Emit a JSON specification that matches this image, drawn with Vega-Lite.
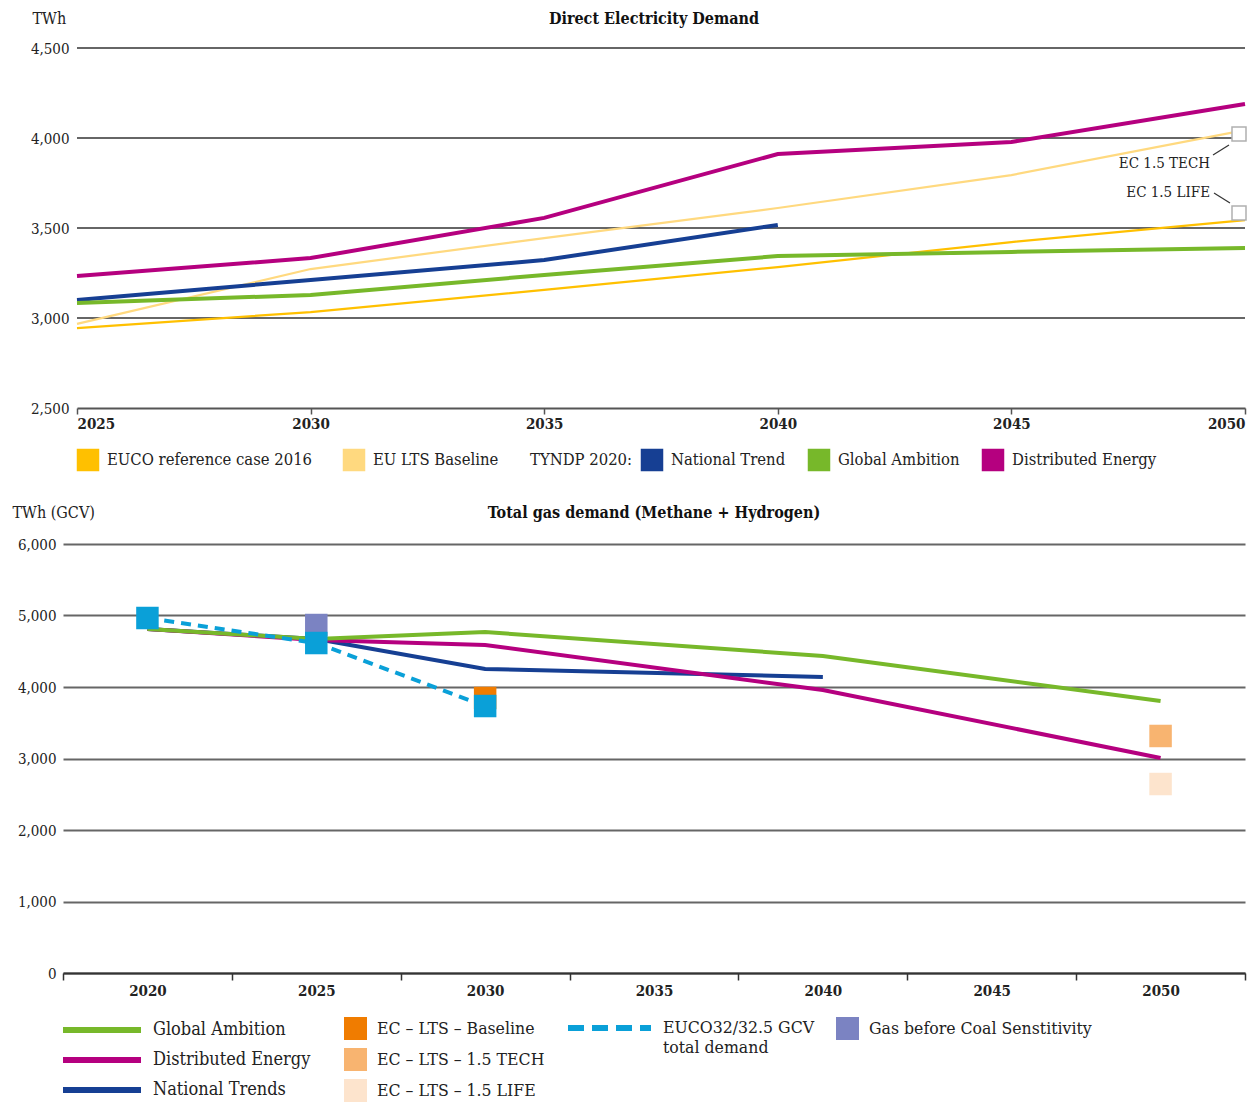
{
  "$schema": "https://vega.github.io/schema/vega-lite/v6.json",
  "padding": {"left": 12, "top": 10, "right": 10, "bottom": 2},
  "background": "white",
  "config": {
    "font": "'DejaVu Serif Condensed', 'DejaVu Serif', serif",
    "view": {"stroke": null},
    "axis": {"labelColor": "#222222", "titleColor": "#222222", "labelFontSize": 15, "titleFontSize": 16, "titleFontWeight": "normal"},
    "legend": {"labelFontSize": 16.5, "labelLimit": 500, "labelColor": "#222222", "titleColor": "#222222", "titleFontWeight": "normal", "titleFontSize": 16.5},
    "title": {"fontSize": 16, "fontWeight": "bold", "color": "#111111"}
  },
  "datasets": {
    "elec": [
      {"series": "National Trend", "year": 2025, "value": 3100},
      {"series": "National Trend", "year": 2030, "value": 3211},
      {"series": "National Trend", "year": 2035, "value": 3322},
      {"series": "National Trend", "year": 2040, "value": 3517},
      {"series": "Global Ambition", "year": 2025, "value": 3083},
      {"series": "Global Ambition", "year": 2030, "value": 3128},
      {"series": "Global Ambition", "year": 2035, "value": 3239},
      {"series": "Global Ambition", "year": 2040, "value": 3344},
      {"series": "Global Ambition", "year": 2045, "value": 3367},
      {"series": "Global Ambition", "year": 2050, "value": 3389},
      {"series": "Distributed Energy", "year": 2025, "value": 3233},
      {"series": "Distributed Energy", "year": 2030, "value": 3333},
      {"series": "Distributed Energy", "year": 2035, "value": 3556},
      {"series": "Distributed Energy", "year": 2040, "value": 3911},
      {"series": "Distributed Energy", "year": 2045, "value": 3978},
      {"series": "Distributed Energy", "year": 2050, "value": 4189},
      {"series": "EUCO reference case 2016", "year": 2025, "value": 2944},
      {"series": "EUCO reference case 2016", "year": 2030, "value": 3033},
      {"series": "EUCO reference case 2016", "year": 2035, "value": 3156},
      {"series": "EUCO reference case 2016", "year": 2040, "value": 3283},
      {"series": "EUCO reference case 2016", "year": 2045, "value": 3422},
      {"series": "EUCO reference case 2016", "year": 2050, "value": 3544},
      {"series": "EU LTS Baseline", "year": 2025, "value": 2967},
      {"series": "EU LTS Baseline", "year": 2030, "value": 3272},
      {"series": "EU LTS Baseline", "year": 2035, "value": 3444},
      {"series": "EU LTS Baseline", "year": 2040, "value": 3611},
      {"series": "EU LTS Baseline", "year": 2045, "value": 3794},
      {"series": "EU LTS Baseline", "year": 2050, "value": 4044}
    ],
    "ec_elec": [
      {"label": "EC 1.5 TECH", "year": 2050, "value": 4022},
      {"label": "EC 1.5 LIFE", "year": 2050, "value": 3583}
    ],
    "gas": [
      {"series": "National Trends", "year": "2020", "value": 4811},
      {"series": "National Trends", "year": "2025", "value": 4671},
      {"series": "National Trends", "year": "2030", "value": 4252},
      {"series": "National Trends", "year": "2040", "value": 4140},
      {"series": "Distributed Energy", "year": "2020", "value": 4811},
      {"series": "Distributed Energy", "year": "2025", "value": 4657},
      {"series": "Distributed Energy", "year": "2030", "value": 4587},
      {"series": "Distributed Energy", "year": "2040", "value": 3958},
      {"series": "Distributed Energy", "year": "2050", "value": 3007},
      {"series": "Global Ambition", "year": "2020", "value": 4811},
      {"series": "Global Ambition", "year": "2025", "value": 4671},
      {"series": "Global Ambition", "year": "2030", "value": 4769},
      {"series": "Global Ambition", "year": "2040", "value": 4434},
      {"series": "Global Ambition", "year": "2050", "value": 3804}
    ],
    "euco": [
      {"series": "EUCO32/32.5 GCV total demand", "year": "2020", "value": 4965},
      {"series": "EUCO32/32.5 GCV total demand", "year": "2025", "value": 4615},
      {"series": "EUCO32/32.5 GCV total demand", "year": "2030", "value": 3734}
    ],
    "ec_gas": [
      {"series": "EC – LTS – Baseline", "year": "2030", "value": 3846},
      {"series": "EC – LTS – 1.5 TECH", "year": "2050", "value": 3315},
      {"series": "EC – LTS – 1.5 LIFE", "year": "2050", "value": 2643}
    ],
    "gbc": [
      {"series": "Gas before Coal Senstitivity", "year": "2025", "value": 4867}
    ],
    "grid_top": [
      {"grid": 3000}, {"grid": 3500}, {"grid": 4000}, {"grid": 4500}
    ]
  },
  "bounds": "flush",
  "spacing": 136,
  "vconcat": [
    {
      "width": 1182,
      "height": 360,
      "title": {"text": "Direct Electricity Demand", "anchor": "middle", "offset": -17},
      "layer": [
        {
          "data": {"name": "grid_top"},
          "mark": {"type": "rule", "stroke": "#666666", "strokeWidth": 2},
          "encoding": {
            "x": {"datum": 2025, "type": "quantitative", "scale": {"domain": [2025, 2050], "range": [14, 1182], "nice": false, "zero": false},
                  "axis": {"values": [2025, 2030, 2035, 2040, 2045, 2050], "format": "d", "title": null, "grid": false, "domainColor": "#555555", "domainWidth": 2, "tickColor": "#555555", "tickSize": 6, "tickWidth": 1.5, "labelFlush": true, "labelFontWeight": "bold", "labelPadding": 2}},
            "x2": {"datum": 2050},
            "y": {"field": "grid", "type": "quantitative", "scale": {"domain": [2500, 4500], "nice": false, "zero": false},
                  "axis": {"values": [2500, 3000, 3500, 4000, 4500], "format": ",d", "grid": false, "domain": false, "ticks": false, "tickSize": 0, "labelPadding": -6, "title": "TWh", "titleAngle": 0, "titleAlign": "left", "titleBaseline": "middle", "titleX": -31, "titleY": -30}}
          }
        },
        {
          "data": {"name": "elec"},
          "transform": [{"filter": {"field": "series", "oneOf": ["EUCO reference case 2016", "EU LTS Baseline"]}}],
          "mark": {"type": "line", "strokeWidth": 2.2},
          "encoding": {
            "x": {"field": "year", "type": "quantitative", "scale": {"domain": [2025, 2050], "range": [14, 1182], "nice": false, "zero": false}},
            "y": {"field": "value", "type": "quantitative", "scale": {"domain": [2500, 4500], "nice": false, "zero": false}},
            "color": {"field": "series", "type": "nominal", "scale": {"domain": ["EUCO reference case 2016", "EU LTS Baseline"], "range": ["#ffc000", "#ffd97f"]}, "legend": null}
          }
        },
        {
          "data": {"name": "elec"},
          "transform": [{"filter": {"field": "series", "oneOf": ["National Trend", "Global Ambition", "Distributed Energy"]}}],
          "mark": {"type": "line", "strokeWidth": 4},
          "encoding": {
            "x": {"field": "year", "type": "quantitative", "scale": {"domain": [2025, 2050], "range": [14, 1182], "nice": false, "zero": false}},
            "y": {"field": "value", "type": "quantitative", "scale": {"domain": [2500, 4500], "nice": false, "zero": false}},
            "color": {"field": "series", "type": "nominal", "scale": {"domain": ["National Trend", "Global Ambition", "Distributed Energy"], "range": ["#163f93", "#77b82a", "#b5007f"]}, "legend": null}
          }
        },
        {
          "data": {"name": "elec"},
          "transform": [{"filter": {"field": "series", "oneOf": ["EUCO reference case 2016", "EU LTS Baseline"]}}],
          "mark": {"type": "square", "size": 0, "filled": true, "opacity": 1},
          "encoding": {
            "x": {"field": "year", "type": "quantitative", "scale": {"domain": [2025, 2050], "range": [14, 1182], "nice": false, "zero": false}},
            "y": {"field": "value", "type": "quantitative", "scale": {"domain": [2500, 4500], "nice": false, "zero": false}},
            "color": {"field": "series", "type": "nominal", "scale": {"domain": ["EUCO reference case 2016", "EU LTS Baseline"], "range": ["#ffc000", "#ffd97f"]},
                      "legend": {"title": null, "orient": "none", "legendX": 13, "legendY": 400, "direction": "horizontal", "symbolSize": 506, "symbolOpacity": 1, "clipHeight": 24, "labelOffset": 7, "columnPadding": 29}}
          }
        },
        {
          "data": {"name": "elec"},
          "transform": [{"filter": {"field": "series", "oneOf": ["National Trend", "Global Ambition", "Distributed Energy"]}}],
          "mark": {"type": "square", "size": 0, "filled": true, "opacity": 1},
          "encoding": {
            "x": {"field": "year", "type": "quantitative", "scale": {"domain": [2025, 2050], "range": [14, 1182], "nice": false, "zero": false}},
            "y": {"field": "value", "type": "quantitative", "scale": {"domain": [2500, 4500], "nice": false, "zero": false}},
            "color": {"field": "series", "type": "nominal", "scale": {"domain": ["National Trend", "Global Ambition", "Distributed Energy"], "range": ["#163f93", "#77b82a", "#b5007f"]},
                      "legend": {"title": "TYNDP 2020:", "titleOrient": "left", "titlePadding": 7, "orient": "none", "legendX": 467, "legendY": 400, "direction": "horizontal", "symbolSize": 506, "symbolOpacity": 1, "clipHeight": 24, "labelOffset": 7, "columnPadding": 21}}
          }
        },
        {
          "data": {"name": "ec_elec"},
          "mark": {"type": "square", "size": 196, "filled": true, "opacity": 1, "fill": "white", "stroke": "#b0b0b0", "strokeWidth": 1.5, "xOffset": -6},
          "encoding": {
            "x": {"field": "year", "type": "quantitative", "scale": {"domain": [2025, 2050], "range": [14, 1182], "nice": false, "zero": false}},
            "y": {"field": "value", "type": "quantitative", "scale": {"domain": [2500, 4500], "nice": false, "zero": false}}
          }
        },
        {
          "data": {"name": "ec_elec"},
          "transform": [{"filter": "datum.label == 'EC 1.5 TECH'"}],
          "mark": {"type": "text", "align": "right", "baseline": "middle", "dx": -35, "dy": 29, "fontSize": 15, "color": "#222222"},
          "encoding": {
            "x": {"field": "year", "type": "quantitative", "scale": {"domain": [2025, 2050], "range": [14, 1182], "nice": false, "zero": false}},
            "y": {"field": "value", "type": "quantitative", "scale": {"domain": [2500, 4500], "nice": false, "zero": false}},
            "text": {"field": "label"}
          }
        },
        {
          "data": {"name": "ec_elec"},
          "transform": [{"filter": "datum.label == 'EC 1.5 LIFE'"}],
          "mark": {"type": "text", "align": "right", "baseline": "middle", "dx": -35, "dy": -21, "fontSize": 15, "color": "#222222"},
          "encoding": {
            "x": {"field": "year", "type": "quantitative", "scale": {"domain": [2025, 2050], "range": [14, 1182], "nice": false, "zero": false}},
            "y": {"field": "value", "type": "quantitative", "scale": {"domain": [2500, 4500], "nice": false, "zero": false}},
            "text": {"field": "label"}
          }
        },
        {
          "data": {"name": "ec_elec"},
          "transform": [{"filter": "datum.label == 'EC 1.5 TECH'"}],
          "mark": {"type": "rule", "stroke": "#333333", "strokeWidth": 1.2, "xOffset": -32, "x2Offset": -16, "yOffset": 21, "y2Offset": 11},
          "encoding": {
            "x": {"field": "year", "type": "quantitative", "scale": {"domain": [2025, 2050], "range": [14, 1182], "nice": false, "zero": false}},
            "x2": {"field": "year"},
            "y": {"field": "value", "type": "quantitative", "scale": {"domain": [2500, 4500], "nice": false, "zero": false}},
            "y2": {"field": "value"}
          }
        },
        {
          "data": {"name": "ec_elec"},
          "transform": [{"filter": "datum.label == 'EC 1.5 LIFE'"}],
          "mark": {"type": "rule", "stroke": "#333333", "strokeWidth": 1.2, "xOffset": -31, "x2Offset": -15, "yOffset": -20, "y2Offset": -10},
          "encoding": {
            "x": {"field": "year", "type": "quantitative", "scale": {"domain": [2025, 2050], "range": [14, 1182], "nice": false, "zero": false}},
            "x2": {"field": "year"},
            "y": {"field": "value", "type": "quantitative", "scale": {"domain": [2500, 4500], "nice": false, "zero": false}},
            "y2": {"field": "value"}
          }
        }
      ],
      "resolve": {"scale": {"color": "independent"}, "legend": {"color": "independent"}}
    },
    {
      "width": 1182,
      "height": 429,
      "title": {"text": "Total gas demand (Methane + Hydrogen)", "anchor": "middle", "offset": -17},
      "layer": [
        {
          "data": {"name": "gas"},
          "mark": {"type": "line", "strokeWidth": 4},
          "encoding": {
            "x": {"field": "year", "type": "ordinal", "scale": {"type": "band", "domain": ["2020", "2025", "2030", "2035", "2040", "2045", "2050"], "paddingInner": 0, "paddingOuter": 0},
                  "axis": {"title": null, "tickBand": "extent", "labelAngle": 0, "labelFontWeight": "bold", "domainColor": "#333333", "domainWidth": 2, "tickColor": "#333333", "tickSize": 7, "tickWidth": 1.5, "grid": false, "labelPadding": 3}},
            "y": {"field": "value", "type": "quantitative", "scale": {"domain": [0, 6000], "nice": false},
                  "axis": {"values": [0, 1000, 2000, 3000, 4000, 5000, 6000], "format": ",d", "grid": true, "gridColor": "#666666", "gridWidth": 2, "domain": false, "ticks": false, "tickSize": 0, "labelPadding": 7, "title": "TWh (GCV)", "titleAngle": 0, "titleAlign": "left", "titleBaseline": "middle", "titleX": -51, "titleY": -32}},
            "color": {"field": "series", "type": "nominal", "scale": {"domain": ["Global Ambition", "Distributed Energy", "National Trends"], "range": ["#77b82a", "#b5007f", "#163f93"]},
                      "legend": {"title": null, "orient": "none", "legendX": -3, "legendY": 471, "direction": "vertical", "symbolType": "stroke", "symbolSize": 6084, "symbolStrokeWidth": 6, "clipHeight": 30, "rowPadding": 0, "labelOffset": 9, "labelFontSize": 18}}
          }
        },
        {
          "data": {"name": "euco"},
          "mark": {"type": "line", "strokeWidth": 4, "strokeDash": [10, 7]},
          "encoding": {
            "x": {"field": "year", "type": "ordinal", "scale": {"type": "band", "domain": ["2020", "2025", "2030", "2035", "2040", "2045", "2050"], "paddingInner": 0, "paddingOuter": 0}},
            "y": {"field": "value", "type": "quantitative", "scale": {"domain": [0, 6000], "nice": false}},
            "color": {"field": "series", "type": "nominal", "scale": {"domain": ["EUCO32/32.5 GCV total demand"], "range": ["#0aa0d8"]},
                      "legend": {"title": null, "orient": "none", "legendX": 502, "legendY": 469, "symbolType": "stroke", "symbolSize": 6889, "symbolStrokeWidth": 6, "symbolDash": [16, 8], "clipHeight": 30, "labelOffset": 9, "labelFontSize": 17.5, "labelExpr": "['EUCO32/32.5 GCV', 'total demand']"}}
          }
        },
        {
          "data": {"name": "ec_gas"},
          "mark": {"type": "square", "size": 506, "filled": true, "opacity": 1},
          "encoding": {
            "x": {"field": "year", "type": "ordinal", "scale": {"type": "band", "domain": ["2020", "2025", "2030", "2035", "2040", "2045", "2050"], "paddingInner": 0, "paddingOuter": 0}},
            "y": {"field": "value", "type": "quantitative", "scale": {"domain": [0, 6000], "nice": false}},
            "color": {"field": "series", "type": "nominal", "scale": {"domain": ["EC – LTS – Baseline", "EC – LTS – 1.5 TECH", "EC – LTS – 1.5 LIFE"], "range": ["#f07c00", "#f8b470", "#fde4cd"]},
                      "legend": {"title": null, "orient": "none", "legendX": 280, "legendY": 469, "direction": "vertical", "symbolSize": 529, "clipHeight": 31, "rowPadding": 0, "labelOffset": 9, "labelFontSize": 17.5}}
          }
        },
        {
          "data": {"name": "gbc"},
          "mark": {"type": "square", "size": 506, "filled": true, "opacity": 1},
          "encoding": {
            "x": {"field": "year", "type": "ordinal", "scale": {"type": "band", "domain": ["2020", "2025", "2030", "2035", "2040", "2045", "2050"], "paddingInner": 0, "paddingOuter": 0}},
            "y": {"field": "value", "type": "quantitative", "scale": {"domain": [0, 6000], "nice": false}},
            "color": {"field": "series", "type": "nominal", "scale": {"domain": ["Gas before Coal Senstitivity"], "range": ["#7b83c2"]},
                      "legend": {"title": null, "orient": "none", "legendX": 772, "legendY": 469, "symbolSize": 529, "clipHeight": 31, "labelOffset": 9, "labelFontSize": 17.5}}
          }
        },
        {
          "data": {"name": "euco"},
          "mark": {"type": "square", "size": 506, "filled": true, "opacity": 1, "color": "#0aa0d8"},
          "encoding": {
            "x": {"field": "year", "type": "ordinal", "scale": {"type": "band", "domain": ["2020", "2025", "2030", "2035", "2040", "2045", "2050"], "paddingInner": 0, "paddingOuter": 0}},
            "y": {"field": "value", "type": "quantitative", "scale": {"domain": [0, 6000], "nice": false}}
          }
        }
      ],
      "resolve": {"scale": {"color": "independent"}, "legend": {"color": "independent"}}
    }
  ]
}
